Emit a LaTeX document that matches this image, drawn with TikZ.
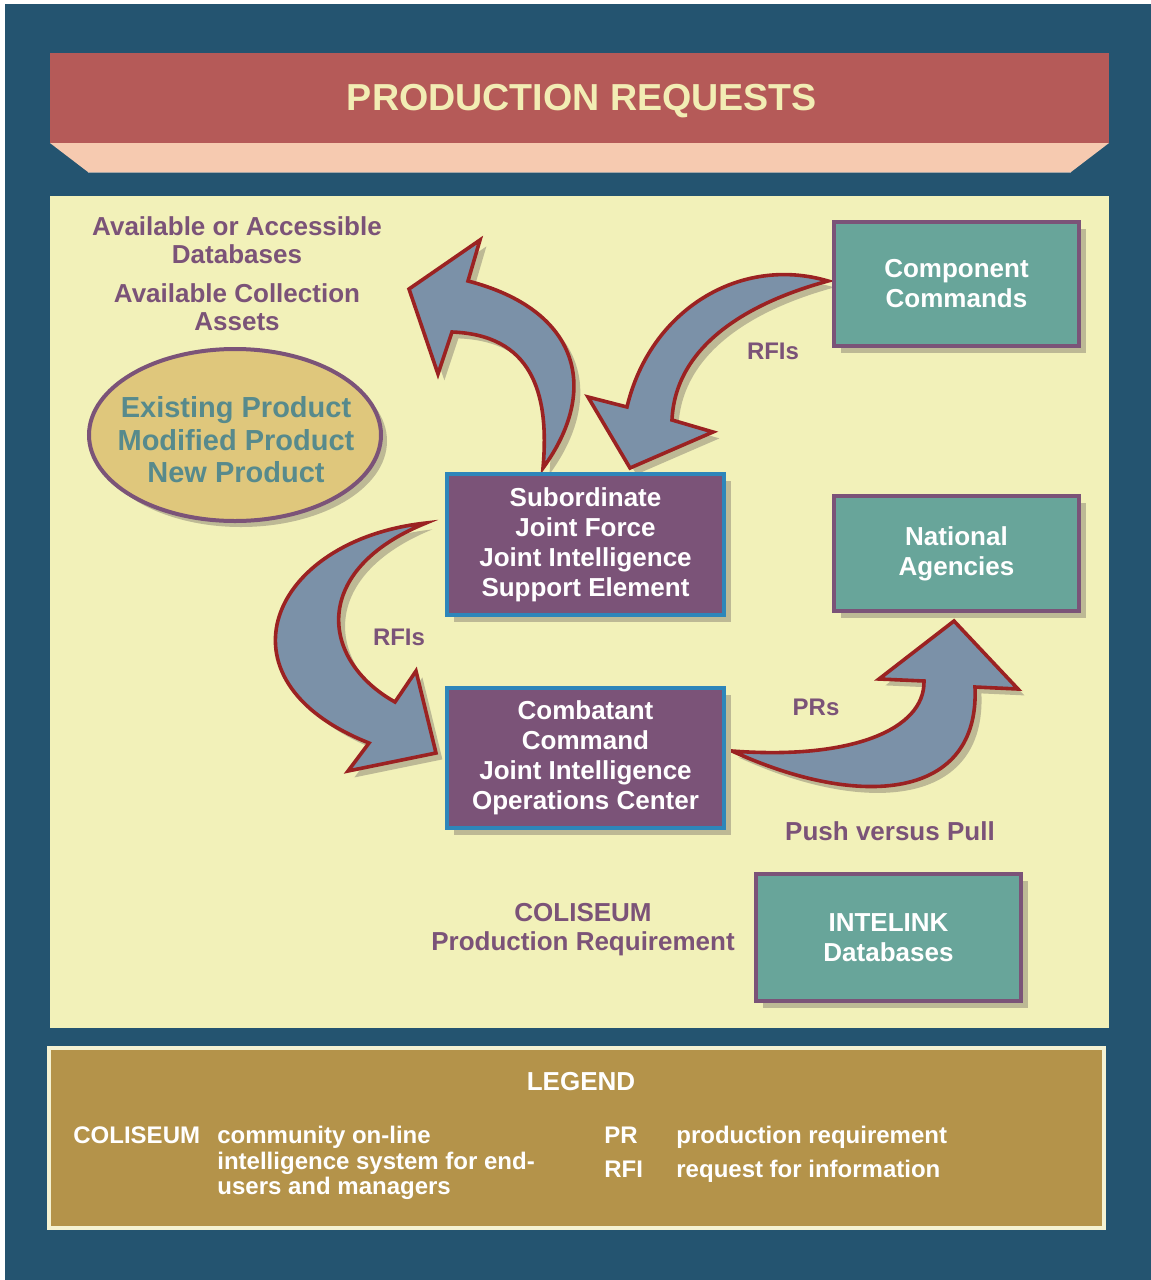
\documentclass[tikz,border=0pt]{standalone}
\usepackage{fontspec}
\setmainfont{Liberation Sans}
\usetikzlibrary{shadows}

\definecolor{navy}{HTML}{245470}
\definecolor{bandred}{HTML}{B55A58}
\definecolor{bandpeach}{HTML}{F6CAB0}
\definecolor{titletext}{HTML}{F2EDB4}
\definecolor{panel}{HTML}{F2F1B9}
\definecolor{boxteal}{HTML}{68A59A}
\definecolor{boxplum}{HTML}{7B5378}
\definecolor{boxsteel}{HTML}{2E86BA}
\definecolor{arrowslate}{HTML}{7B91A8}
\definecolor{arrowrust}{HTML}{9B2222}
\definecolor{shadowkhaki}{HTML}{BDB995}
\definecolor{ovalgold}{HTML}{DFC77C}
\definecolor{ovaltext}{HTML}{578A8C}
\definecolor{legendgold}{HTML}{B4934A}
\definecolor{legendcream}{HTML}{F5F2D2}

\tikzset{
  boxshadow/.style={drop shadow={shadow xshift=3.5pt, shadow yshift=-3.5pt, fill=shadowkhaki, opacity=1}},
  tealbox/.style={rectangle, draw=boxplum, line width=2.2pt, fill=boxteal, text=white,
    font=\bfseries\fontsize{13}{15}\selectfont, align=center, inner sep=0pt, boxshadow},
  plumbox/.style={rectangle, draw=boxsteel, line width=2pt, fill=boxplum, text=white,
    font=\bfseries\fontsize{13}{15}\selectfont, align=center, inner sep=0pt, boxshadow},
  plumtext/.style={text=boxplum, font=\bfseries\fontsize{13}{14}\selectfont, align=center, inner sep=0pt},
  bigarrow/.style={fill=arrowslate, draw=arrowrust, line width=1.8pt, line join=miter,
    preaction={fill=shadowkhaki, transform canvas={xshift=3.2pt, yshift=-3.2pt}}},
  legendtext/.style={text=white, font=\bfseries\fontsize{12}{12.75}\selectfont, inner sep=0pt},
}

\begin{document}
\begin{tikzpicture}[x=0.5pt, y=-0.5pt]
    \useasboundingbox (0,0) rectangle (1151,1280);
    \fill[white] (0,0) rectangle (1151,1280);
    \fill[navy] (5,4) rectangle (1151,1280);

    % title band
    \fill[bandred] (50,53) rectangle (1109,143);
    \fill[bandpeach] (50,143) -- (1109,143) -- (1071,172) -- (88,172) -- cycle;
    \draw[gray!70, line width=0.5pt] (88,172) -- (1071,172);
    \node[text=titletext, font=\bfseries\fontsize{18.8}{22}\selectfont] (title) at (582,101) {PRODUCTION REQUESTS};

    % main panel
    \fill[panel] (50,196) rectangle (1109,1028);

    \node[plumtext] (databases) at (237,240) {Available or Accessible\\Databases};
    \node[plumtext] (assets) at (237,307) {Available Collection\\Assets};

    \draw[draw=boxplum, fill=ovalgold, line width=2pt,
      preaction={fill=shadowkhaki, transform canvas={xshift=3pt, yshift=-3pt}}]
      (235,435) ellipse [x radius=146, y radius=86];
    \node[text=ovaltext, font=\bfseries\fontsize{14.5}{16.3}\selectfont, align=center] (product) at (236,440)
      {Existing Product\\Modified Product\\New Product};

    % arrows
    \coordinate (jsupport out) at (543,468);
    \coordinate (component out) at (828,281);
    \coordinate (jsupport side) at (426,523);
    \coordinate (jops out) at (732,751);

    \draw[bigarrow] (jsupport out) .. controls (600,390) and (580,310) .. (468,281) -- (480,240) -- (409,289)
      -- (438,374) -- (452,332) .. controls (530,335) and (550,390) .. cycle;
    \draw[bigarrow] (component out) .. controls (740,255) and (650,310) .. (627,407) -- (588,397) -- (630,468)
      -- (713,432) -- (672,420) .. controls (675,350) and (740,305) .. cycle;
    \draw[bigarrow] (jsupport side) .. controls (270,540) and (210,680) .. (369,743) -- (348,771) -- (436,753)
      -- (416,671) -- (395,702) .. controls (320,660) and (310,570) .. cycle;
    \draw[bigarrow] (jops out) .. controls (850,760) and (925,730) .. (924,681) -- (879,679) -- (954,621)
      -- (1018,689) -- (975,687) .. controls (980,800) and (860,810) .. cycle;

    % boxes
    \node[plumbox, minimum width=138.5pt, minimum height=70.5pt] (jsupport) at (585.5,544.5)
      {Subordinate\\Joint Force\\Joint Intelligence\\Support Element};
    \node[plumbox, minimum width=138.5pt, minimum height=70pt] (jops) at (585.5,758)
      {Combatant\\Command\\Joint Intelligence\\Operations Center};
    \node[tealbox, minimum width=122.3pt, minimum height=61.8pt] (component) at (956.5,284) {Component\\Commands};
    \node[tealbox, minimum width=122.3pt, minimum height=57.3pt] (national) at (956.5,553.5) {National\\Agencies};
    \node[tealbox, minimum width=132.3pt, minimum height=63.3pt] (intelink) at (888.5,937.5) {INTELINK\\Databases};

    \node[plumtext, font=\bfseries\fontsize{12}{14}\selectfont] (rfis top) at (773,351) {RFIs};
    \node[plumtext, font=\bfseries\fontsize{12}{14}\selectfont] (rfis left) at (399,637) {RFIs};
    \node[plumtext, font=\bfseries\fontsize{12}{14}\selectfont] (prs) at (816,707) {PRs};
    \node[plumtext] (push) at (890,831) {Push versus Pull};
    \node[plumtext, font=\bfseries\fontsize{13}{14.5}\selectfont] (coliseum) at (583,930) {COLISEUM\\Production Requirement};

    % legend
    \draw[draw=legendcream, fill=legendgold, line width=2pt] (49,1048) rectangle (1104,1228);
    \node[legendtext, font=\bfseries\fontsize{13}{15}\selectfont] (legend) at (581,1082) {LEGEND};
    \node[legendtext, anchor=base west] (key coliseum) at (73,1143.6) {COLISEUM};
    \node[legendtext, anchor=north west, align=left] (def coliseum) at (217,1126) 
      {community on-line\\intelligence system for end-\\users and managers};
    \node[legendtext, anchor=base west] (key pr) at (604,1143.6) {PR};
    \node[legendtext, anchor=base west] (def pr) at (676,1143.6) {production requirement};
    \node[legendtext, anchor=base west] (key rfi) at (604,1177.6) {RFI};
    \node[legendtext, anchor=base west] (def rfi) at (676,1177.6) {request for information};
\end{tikzpicture}
\end{document}
